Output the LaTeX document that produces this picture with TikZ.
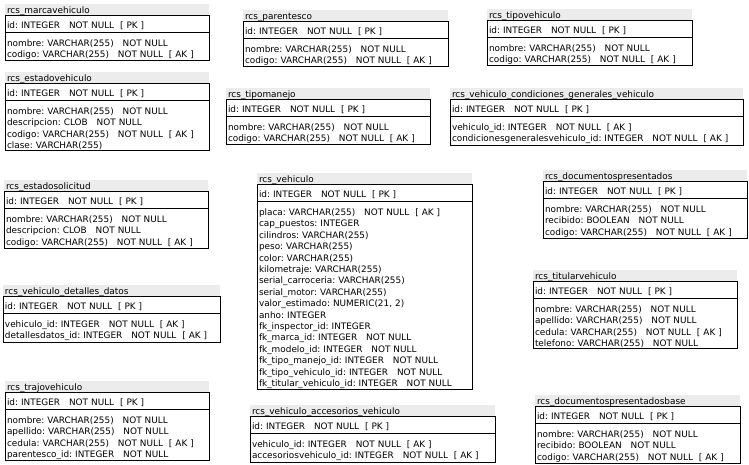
\documentclass[tikz,border=0pt]{standalone}
\usepackage{fontspec}
\setmainfont{DejaVu Sans}
\usetikzlibrary{positioning}
\definecolor{titlebg}{RGB}{236,236,236}
\newcommand{\tabfont}{\fontsize{8.9}{11.4}\selectfont\frenchspacing}
\newcommand{\dbtable}[6]{%
  \node[tabtitle, text width=#3, anchor=north west] (#1-t) at (#2) {#4};
  \node[pkbox, text width=#3, below=0pt of #1-t] (#1-pk) {#5};
  \node[attrbox, text width=#3, below=0pt of #1-pk] (#1-at) {#6};
}
\newcommand{\pkline}{id: INTEGER~~~NOT NULL~~[ PK ]}
\begin{document}
\begin{tikzpicture}[x=1pt, y=-1pt,
  tabtitle/.style={fill=titlebg, inner xsep=2pt, inner ysep=1pt, outer sep=0pt,
    text height=8.5pt, text depth=1pt, align=left, font=\tabfont},
  pkbox/.style={draw, line width=0.9pt, inner xsep=2pt, inner ysep=4pt, outer sep=0pt,
    text height=8.5pt, text depth=0.5pt, align=left, font=\tabfont},
  attrbox/.style={draw, line width=0.9pt, inner xsep=2pt, inner ysep=1pt, outer sep=0pt,
    text height=13pt, align=left, font=\tabfont}]
\useasboundingbox (0,0) rectangle (749,464);

\dbtable{marca}{5,4}{200pt}{rcs\_marcavehiculo}{\pkline}
  {nombre: VARCHAR(255)~~~NOT NULL\\
   codigo: VARCHAR(255)~~~NOT NULL~~[ AK ]}
\dbtable{parentesco}{243,10}{201pt}{rcs\_parentesco}{\pkline}
  {nombre: VARCHAR(255)~~~NOT NULL\\
   codigo: VARCHAR(255)~~~NOT NULL~~[ AK ]}
\dbtable{tipoveh}{487,9}{201pt}{rcs\_tipovehiculo}{\pkline}
  {nombre: VARCHAR(255)~~~NOT NULL\\
   codigo: VARCHAR(255)~~~NOT NULL~~[ AK ]}

\dbtable{estadoveh}{5,72}{200pt}{rcs\_estadovehiculo}{\pkline}
  {nombre: VARCHAR(255)~~~NOT NULL\\
   descripcion: CLOB~~~NOT NULL\\
   codigo: VARCHAR(255)~~~NOT NULL~~[ AK ]\\
   clase: VARCHAR(255)}
\dbtable{tipomanejo}{226,88}{200pt}{rcs\_tipomanejo}{\pkline}
  {nombre: VARCHAR(255)~~~NOT NULL\\
   codigo: VARCHAR(255)~~~NOT NULL~~[ AK ]}
\dbtable{condiciones}{450,88}{289pt}{rcs\_vehiculo\_condiciones\_generales\_vehiculo}{\pkline}
  {vehiculo\_id: INTEGER~~~NOT NULL~~[ AK ]\\
   condicionesgeneralesvehiculo\_id: INTEGER~~~NOT NULL~~[ AK ]}

\dbtable{estadosol}{4,180}{200pt}{rcs\_estadosolicitud}{\pkline}
  {nombre: VARCHAR(255)~~~NOT NULL\\
   descripcion: CLOB~~~NOT NULL\\
   codigo: VARCHAR(255)~~~NOT NULL~~[ AK ]}
\dbtable{vehiculo}{257,173}{211pt}{rcs\_vehiculo}{\pkline}
  {placa: VARCHAR(255)~~~NOT NULL~~[ AK ]\\
   cap\_puestos: INTEGER\\
   cilindros: VARCHAR(255)\\
   peso: VARCHAR(255)\\
   color: VARCHAR(255)\\
   kilometraje: VARCHAR(255)\\
   serial\_carroceria: VARCHAR(255)\\
   serial\_motor: VARCHAR(255)\\
   valor\_estimado: NUMERIC(21, 2)\\
   anho: INTEGER\\
   fk\_inspector\_id: INTEGER\\
   fk\_marca\_id: INTEGER~~~NOT NULL\\
   fk\_modelo\_id: INTEGER~~~NOT NULL\\
   fk\_tipo\_manejo\_id: INTEGER~~~NOT NULL\\
   fk\_tipo\_vehiculo\_id: INTEGER~~~NOT NULL\\
   fk\_titular\_vehiculo\_id: INTEGER~~~NOT NULL}
\dbtable{docpres}{543,170}{200pt}{rcs\_documentospresentados}{\pkline}
  {nombre: VARCHAR(255)~~~NOT NULL\\
   recibido: BOOLEAN~~~NOT NULL\\
   codigo: VARCHAR(255)~~~NOT NULL~~[ AK ]}

\dbtable{detalles}{3,285}{213pt}{rcs\_vehiculo\_detalles\_datos}{\pkline}
  {vehiculo\_id: INTEGER~~~NOT NULL~~[ AK ]\\
   detallesdatos\_id: INTEGER~~~NOT NULL~~[ AK ]}
\dbtable{titular}{533,270}{200pt}{rcs\_titularvehiculo}{\pkline}
  {nombre: VARCHAR(255)~~~NOT NULL\\
   apellido: VARCHAR(255)~~~NOT NULL\\
   cedula: VARCHAR(255)~~~NOT NULL~~[ AK ]\\
   telefono: VARCHAR(255)~~~NOT NULL}

\dbtable{trajo}{5,381}{200pt}{rcs\_trajovehiculo}{\pkline}
  {nombre: VARCHAR(255)~~~NOT NULL\\
   apellido: VARCHAR(255)~~~NOT NULL\\
   cedula: VARCHAR(255)~~~NOT NULL~~[ AK ]\\
   parentesco\_id: INTEGER~~~NOT NULL}
\dbtable{accesorios}{250,405}{241pt}{rcs\_vehiculo\_accesorios\_vehiculo}{\pkline}
  {vehiculo\_id: INTEGER~~~NOT NULL~~[ AK ]\\
   accesoriosvehiculo\_id: INTEGER~~~NOT NULL~~[ AK ]}
\dbtable{docbase}{535,395}{201pt}{rcs\_documentospresentadosbase}{\pkline}
  {nombre: VARCHAR(255)~~~NOT NULL\\
   recibido: BOOLEAN~~~NOT NULL\\
   codigo: VARCHAR(255)~~~NOT NULL~~[ AK ]}
\end{tikzpicture}
\end{document}
